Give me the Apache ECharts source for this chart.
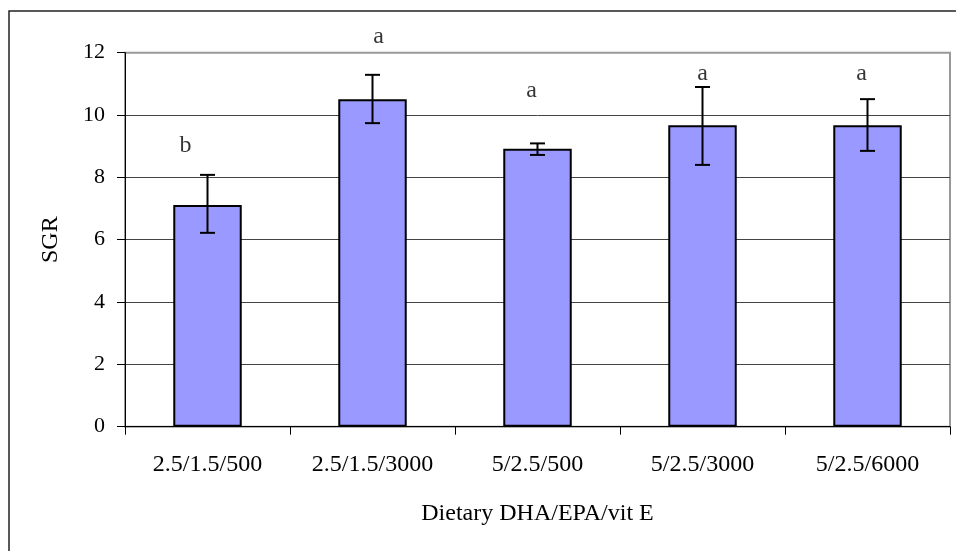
<!DOCTYPE html>
<html>
<head>
<meta charset="utf-8">
<script src="https://cdn.jsdelivr.net/npm/echarts@6/dist/echarts.min.js"></script>
<style>
html,body{margin:0;padding:0;background:#fff;}
#chart{width:956px;height:551px;}
</style>
</head>
<body>
<div id="chart"></div>
<script>
// ---- data ----
var categories = ['2.5/1.5/500', '2.5/1.5/3000', '5/2.5/500', '5/2.5/3000', '5/2.5/6000'];
var sgrMean = [7.11, 10.51, 8.92, 9.67, 9.67];
var errLow  = [6.22, 9.74, 8.72, 8.40, 8.85];
var errHigh = [8.08, 11.29, 9.09, 10.90, 10.51];
var sigLetters = ['b', 'a', 'a', 'a', 'a'];
var letterLevels = [9.03, 12.52, 10.77, 11.34, 11.34];
var yTicks = [0, 2, 4, 6, 8, 10, 12];

// ---- style ----
var FONT = "'Liberation Serif','Times New Roman',serif";
var letterNudgeX = [-22, 6, -6, 0, -6];

var chart = echarts.init(document.getElementById('chart'), null, {renderer: 'canvas'});

var errData = categories.map(function (c, i) { return [i, errLow[i], errHigh[i]]; });
var letterData = categories.map(function (c, i) {
  return {
    value: [i, letterLevels[i]],
    label: {formatter: sigLetters[i], offset: [letterNudgeX[i], 0]}
  };
});

var option = {
  backgroundColor: '#fff',
  animation: false,
  graphic: [{
    type: 'rect',
    shape: {x: 9, y: 11, width: 1000, height: 600},
    style: {fill: 'none', stroke: '#222', lineWidth: 1.5},
    silent: true, z: 100
  }],
  grid: {
    left: 125, right: 6, top: 52.7, bottom: 124.3,
    show: true, borderColor: '#999', borderWidth: 2, backgroundColor: 'transparent'
  },
  xAxis: {
    type: 'category',
    data: categories,
    boundaryGap: true,
    name: 'Dietary DHA/EPA/vit E',
    nameLocation: 'middle',
    nameGap: 75,
    nameTextStyle: {fontFamily: FONT, fontSize: 24, color: '#000'},
    axisLine: {lineStyle: {color: '#000', width: 1}},
    axisTick: {show: true, length: 8, inside: false, lineStyle: {color: '#000'}},
    axisLabel: {fontFamily: FONT, fontSize: 24, color: '#000', margin: 26, interval: 0},
    splitLine: {show: false}
  },
  yAxis: {
    type: 'value',
    min: yTicks[0],
    max: yTicks[yTicks.length - 1],
    interval: yTicks[1] - yTicks[0],
    name: 'SGR',
    nameLocation: 'middle',
    nameGap: 62,
    nameRotate: 90,
    nameTextStyle: {fontFamily: FONT, fontSize: 24, color: '#000'},
    axisLine: {show: true, lineStyle: {color: '#000', width: 1}},
    axisTick: {show: true, length: 8, inside: false, lineStyle: {color: '#000'}},
    axisLabel: {fontFamily: FONT, fontSize: 22, color: '#000', margin: 20},
    splitLine: {show: true, lineStyle: {color: ['#000', '#444', '#444', '#444', '#444', '#444', '#999'], width: 1}}
  },
  series: [
    {
      type: 'bar',
      data: sgrMean,
      barWidth: '41.5%',
      itemStyle: {color: '#9999FF', borderColor: '#000', borderWidth: 2},
      z: 2
    },
    {
      type: 'custom',
      data: errData,
      z: 5,
      renderItem: function (params, api) {
        var x = api.value(0);
        var lo = api.coord([x, api.value(1)]);
        var hi = api.coord([x, api.value(2)]);
        var half = 7.5;
        var st = {stroke: '#000', lineWidth: 2};
        return {
          type: 'group',
          children: [
            {type: 'line', shape: {x1: lo[0], y1: lo[1], x2: hi[0], y2: hi[1]}, style: st},
            {type: 'line', shape: {x1: lo[0] - half, y1: lo[1], x2: lo[0] + half, y2: lo[1]}, style: st},
            {type: 'line', shape: {x1: hi[0] - half, y1: hi[1], x2: hi[0] + half, y2: hi[1]}, style: st}
          ]
        };
      }
    },
    {
      type: 'scatter',
      data: letterData,
      symbolSize: 0,
      clip: false,
      z: 6,
      label: {
        show: true,
        position: 'inside',
        fontFamily: FONT,
        fontSize: 24,
        color: '#000'
      }
    }
  ]
};
chart.setOption(option);
</script>
</body>
</html>
